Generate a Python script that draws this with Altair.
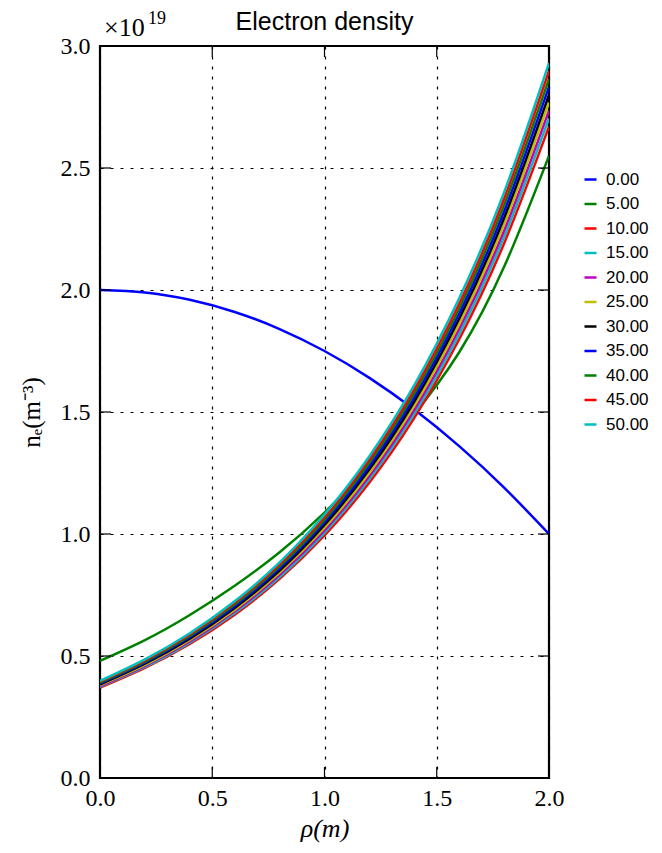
import altair as alt
import pandas as pd

rho = [0.0, 0.2, 0.4, 0.6, 0.8, 1.0, 1.2, 1.4, 1.6, 1.8, 2.0]

labels = ["0.00", "5.00", "10.00", "15.00", "20.00", "25.00",
          "30.00", "35.00", "40.00", "45.00", "50.00"]
colors = ["#0000ff", "#008000", "#ff0000", "#00bfbf", "#bf00bf", "#bfbf00",
          "#000000", "#0000ff", "#008000", "#ff0000", "#00bfbf"]

ne_00 = [2.000, 1.990, 1.960, 1.910, 1.840, 1.750, 1.640, 1.510, 1.360, 1.190, 1.000]
ne_05 = [0.480, 0.565, 0.668, 0.788, 0.925, 1.088, 1.278, 1.492, 1.745, 2.095, 2.550]
ne_10 = [0.370, 0.451, 0.549, 0.669, 0.816, 0.994, 1.211, 1.476, 1.798, 2.191, 2.670]
ne_15 = [0.374, 0.455, 0.555, 0.676, 0.824, 1.005, 1.225, 1.493, 1.819, 2.217, 2.703]
ne_20 = [0.377, 0.460, 0.560, 0.683, 0.833, 1.015, 1.238, 1.509, 1.840, 2.243, 2.735]
ne_25 = [0.381, 0.464, 0.566, 0.690, 0.842, 1.026, 1.251, 1.526, 1.861, 2.269, 2.768]
ne_30 = [0.384, 0.469, 0.571, 0.697, 0.850, 1.037, 1.265, 1.543, 1.882, 2.295, 2.800]
ne_35 = [0.388, 0.473, 0.577, 0.704, 0.859, 1.048, 1.278, 1.560, 1.903, 2.322, 2.833]
ne_40 = [0.391, 0.477, 0.582, 0.711, 0.867, 1.058, 1.292, 1.576, 1.923, 2.348, 2.865]
ne_45 = [0.395, 0.482, 0.588, 0.718, 0.876, 1.069, 1.305, 1.593, 1.944, 2.374, 2.898]
ne_50 = [0.398, 0.486, 0.593, 0.724, 0.884, 1.080, 1.319, 1.610, 1.966, 2.400, 2.930]

series = [ne_00, ne_05, ne_10, ne_15, ne_20, ne_25, ne_30, ne_35, ne_40, ne_45, ne_50]

x_ticks = [0.0, 0.5, 1.0, 1.5, 2.0]
y_ticks = [0.0, 0.5, 1.0, 1.5, 2.0, 2.5, 3.0]

rows = []
for lab, vals in zip(labels, series):
    for r, v in zip(rho, vals):
        rows.append({"rho": r, "ne": v, "label": lab})
df = pd.DataFrame(rows)

W, H = 449, 732
TICK = 11

xs = alt.Scale(domain=[0, 2], nice=False, zero=False)
ys = alt.Scale(domain=[0, 3], nice=False, zero=False)

serif = "Liberation Serif"

x_axis = alt.Axis(values=x_ticks, format=".1f", grid=True, ticks=False, domain=False,
                  gridColor="black", gridDash=[3, 7], gridWidth=1.2, gridOpacity=1,
                  labelFont=serif, labelFontSize=24, labelColor="black", labelPadding=8,
                  labelFlush=False,
                  title="ρ(m)", titleFont=serif, titleFontStyle="italic",
                  titleFontSize=26, titleFontWeight="normal", titleColor="black",
                  titlePadding=5)
y_axis = alt.Axis(values=y_ticks, format=".1f", grid=True, ticks=False, domain=False,
                  gridColor="black", gridDash=[3, 7], gridWidth=1.2, gridOpacity=1,
                  labelFont=serif, labelFontSize=24, labelColor="black", labelPadding=10,
                  labelFlush=False,
                  title="nₑ(m⁻³)", titleFont=serif, titleFontSize=25,
                  titleFontWeight="normal", titleColor="black", titlePadding=16)

color = alt.Color("label:N", scale=alt.Scale(domain=labels, range=colors),
                  legend=alt.Legend(title=None, orient="none", legendX=482, legendY=125,
                                    labelFont="Liberation Sans", labelFontSize=17,
                                    labelColor="black", symbolType="stroke",
                                    symbolStrokeWidth=2.5, symbolSize=144,
                                    rowPadding=6.5, labelOffset=7, padding=0))

base = alt.Chart(df).mark_line(strokeWidth=2.5, interpolate="natural", clip=True)
line_layers = []
for lab in labels:
    line_layers.append(
        base.transform_filter(alt.datum.label == lab).encode(
            x=alt.X("rho:Q", scale=xs, axis=x_axis),
            y=alt.Y("ne:Q", scale=ys, axis=y_axis),
            color=color,
        )
    )

xt = pd.DataFrame({"rho": x_ticks})
yt = pd.DataFrame({"ne": y_ticks})
tick_style = dict(color="black", strokeWidth=1.2)
xb = alt.Chart(xt).mark_rule(**tick_style).encode(
    x=alt.X("rho:Q", scale=xs, axis=x_axis), y=alt.value(H), y2=alt.value(H - TICK))
xtp = alt.Chart(xt).mark_rule(**tick_style).encode(
    x=alt.X("rho:Q", scale=xs, axis=x_axis), y=alt.value(0), y2=alt.value(TICK))
yl = alt.Chart(yt).mark_rule(**tick_style).encode(
    y=alt.Y("ne:Q", scale=ys, axis=y_axis), x=alt.value(0), x2=alt.value(TICK))
yr = alt.Chart(yt).mark_rule(**tick_style).encode(
    y=alt.Y("ne:Q", scale=ys, axis=y_axis), x=alt.value(W), x2=alt.value(W - TICK))

mult = alt.Chart(pd.DataFrame({"s": ["×10"]})).mark_text(
    align="left", baseline="alphabetic", font=serif, fontSize=26, color="black"
).encode(text="s:N", x=alt.value(4), y=alt.value(-10))
expo = alt.Chart(pd.DataFrame({"s": ["19"]})).mark_text(
    align="left", baseline="alphabetic", font=serif, fontSize=18, color="black"
).encode(text="s:N", x=alt.value(48), y=alt.value(-22))
title = alt.Chart(pd.DataFrame({"s": ["Electron density"]})).mark_text(
    align="center", baseline="alphabetic", font="Liberation Sans", fontSize=25,
    color="black"
).encode(text="s:N", x=alt.value(W / 2), y=alt.value(-16))

chart = alt.layer(*line_layers, xb, xtp, yl, yr, mult, expo, title).properties(
    width=W, height=H,
    autosize=alt.AutoSizeParams(type="none"),
    padding={"left": 92, "top": 38, "right": 105, "bottom": 67},
).configure_view(stroke="black", strokeWidth=2.2)

chart.save("out.html", embed_options={"renderer": "svg", "actions": False})
